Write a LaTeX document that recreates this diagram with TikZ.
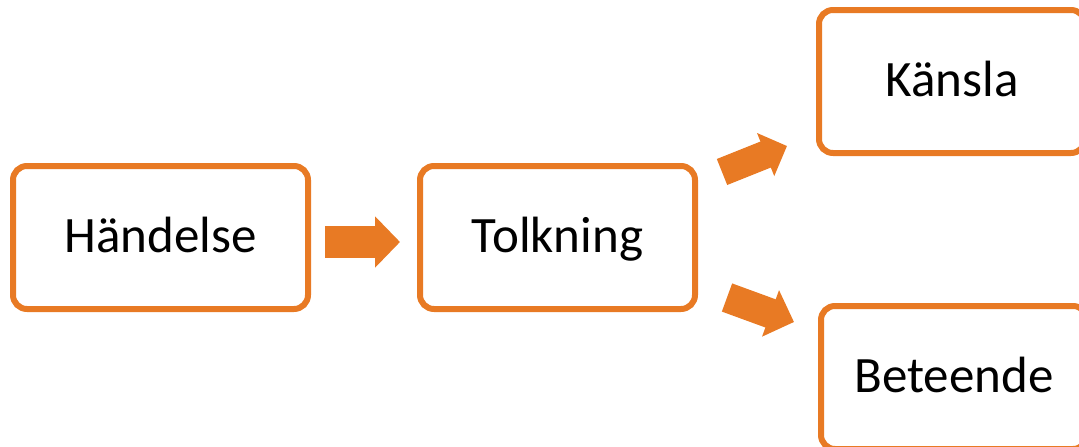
\documentclass[tikz,border=0pt]{standalone}
\usepackage{fontspec}
\setmainfont{Carlito}
\usetikzlibrary{arrows.meta}
\definecolor{accent}{HTML}{E87A24}
\tikzset{
  stagebox/.style={draw=accent, line width=6pt, rounded corners=14pt, fill=white,
    inner sep=0pt, align=center, text height=40pt, text depth=11pt,
    font=\fontsize{51}{60}\selectfont},
  bigarrow/.style={draw=accent, line width=#1, line cap=butt,
    -{Triangle[length=25pt, width=50pt, fill=accent]}},
  bigarrow/.default=32pt
}
\begin{document}
\begin{tikzpicture}[x=1pt, y=-1pt]
  \useasboundingbox (0,0) rectangle (1079,447);
  \clip (0,0) rectangle (1079,447);

  % process stages
  \node[stagebox, minimum width=295pt, minimum height=143pt] (h) at (160.5,237.5) {Händelse};
  \node[stagebox, minimum width=275pt, minimum height=143pt] (t) at (557.5,237.5) {Tolkning};
  \node[stagebox, minimum width=266pt, minimum height=143pt] (k) at (952,81.5) {Känsla};
  \node[stagebox, minimum width=266pt, minimum height=143pt] (b) at (954,377.5) {Beteende};

  % block arrows between the stages
  \draw[bigarrow, shorten <=14pt, shorten >=17pt] ([yshift=-4.5pt]h.east) -- ([yshift=-4.5pt]t.west);

  \coordinate (up1) at (722,172);
  \coordinate (up2) at (787,146);
  \draw[draw=accent, line width=28pt,
        -{Triangle[length=23pt, width=45pt, fill=accent]}] (up1) -- (up2);

  \coordinate (dn1) at (727,297.5);
  \coordinate (dn2) at (794,322);
  \draw[draw=accent, line width=30pt,
        -{Triangle[length=25pt, width=48pt, fill=accent]}] (dn1) -- (dn2);
\end{tikzpicture}
\end{document}
